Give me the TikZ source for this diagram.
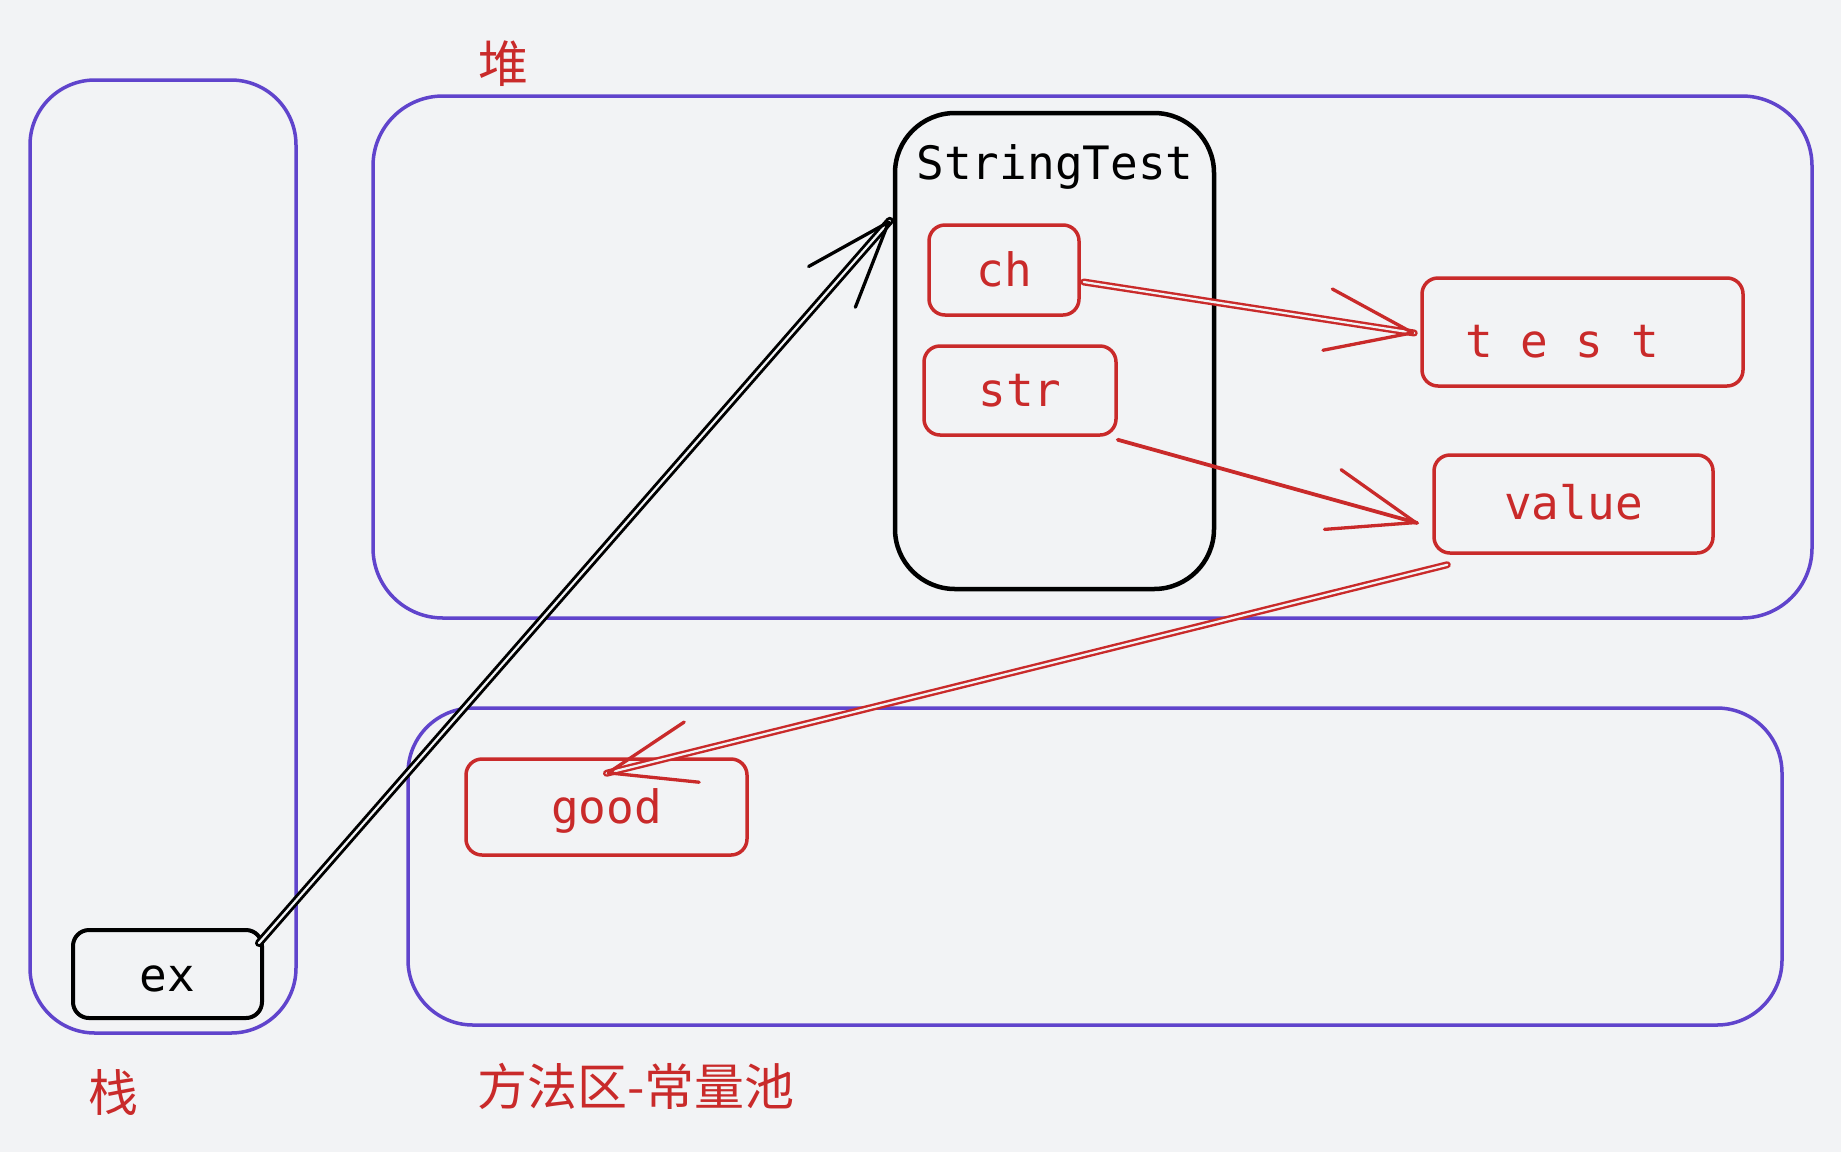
\documentclass[tikz,border=0pt]{standalone}
\usepackage{fontspec}
\newfontfamily\cjkfont{Noto Sans CJK SC}
\newfontfamily\codefont{DejaVu Sans Mono}
\usetikzlibrary{arrows.meta,calc,decorations.markings}
\definecolor{bgcol}{HTML}{F2F3F5}
\definecolor{mypurple}{HTML}{6044CC}
\definecolor{myred}{HTML}{C92A2A}
\newcommand\codesp{\hspace*{0.602em}}
\tikzset{
  area/.style={draw=mypurple, line width=3.5pt, rounded corners=65pt, inner sep=0pt},
  cell/.style={draw=myred, line width=3.5pt, rounded corners=16pt, inner sep=0pt,
    text=myred, font=\codefont\fontsize{46pt}{50pt}\selectfont, text height=32pt, text depth=0pt},
  blackcell/.style={draw=black, line width=4pt, rounded corners=16pt, inner sep=0pt,
    text=black, font=\codefont\fontsize{46pt}{50pt}\selectfont, text height=32pt, text depth=0pt},
  codetext/.style={inner sep=0pt, font=\codefont\fontsize{46pt}{50pt}\selectfont},
  cjklabel/.style={inner sep=0pt, text=myred, font=\cjkfont\fontsize{50pt}{54pt}\selectfont},
  dbl/.style={line width=#1, line cap=round, postaction={draw=bgcol, line width=2.2pt}},
  barb/.style={postaction={decorate, decoration={markings,
      mark=at position 1 with {\arrow[line width=3.3pt]{Straight Barb[length=86pt,width=62pt,round]}}}}},
}
\begin{document}
\begin{tikzpicture}[x=1pt,y=-1pt]
\fill[bgcol] (0,0) rectangle (1841,1152);
\useasboundingbox (0,0) rectangle (1841,1152);

% regions
\node[area, minimum width=266pt, minimum height=953pt] (stack) at (163,556.5) {};
\node[area, rounded corners=70pt, minimum width=1439pt, minimum height=522pt] (heap) at (1092.5,357) {};
\node[area, minimum width=1374pt, minimum height=317pt] (method) at (1095,866.5) {};

\node[cjklabel] (heaplabel) at (503,64) {堆};
\node[cjklabel] (stacklabel) at (113,1092) {栈};
\node[cjklabel] (methodlabel) at (636,1086) {方法区-常量池};

% object
\node[blackcell, line width=4.5pt, rounded corners=60pt, minimum width=319pt, minimum height=476pt] (st) at (1054.5,351) {};
\node[codetext, anchor=base] (sttitle) at (1055,179) {StringTest};

\node[cell, minimum width=150pt, minimum height=90pt] (ch) at (1004,270) {ch};
\node[cell, minimum width=192pt, minimum height=89pt] (str) at (1020,390.5) {str};
\node[cell, minimum width=321pt, minimum height=108pt, text width=235pt, align=left, text height=50pt] (test) at (1582.5,332) {t\codesp e\codesp s\codesp t};
\node[cell, minimum width=279pt, minimum height=98pt, text height=30pt] (value) at (1573.5,504) {value};
\node[cell, minimum width=281pt, minimum height=96pt] (good) at (606.5,807) {good};
\node[blackcell, minimum width=189pt, minimum height=88pt, text height=34pt] (ex) at (167.5,974) {ex};

% connectors
\draw[black, dbl=8pt, barb] ($(ex.north east)+(-5,15)$) -- ($(st.north west)+(-3,110)$);
\draw[myred, dbl=7pt, barb] ($(ch.east)+(3,12)$) -- ($(test.west)+(-6,1)$);
\draw[myred, line width=3.8pt, line cap=round, barb] ($(str.south east)+(0,3)$) -- ($(value.west)+(-15,19)$);
\draw[myred, dbl=7pt, barb] ($(value.south west)+(15,10)$) -- ($(good.north)+(0,16)$);
\end{tikzpicture}
\end{document}
